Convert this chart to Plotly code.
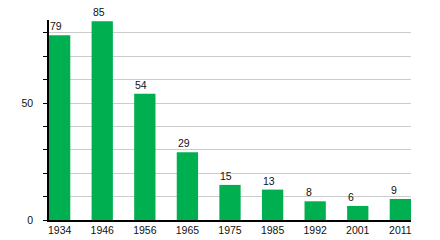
import plotly.graph_objects as go

years = ["1934", "1946", "1956", "1965", "1975", "1985", "1992", "2001", "2011"]
values = [79, 85, 54, 29, 15, 13, 8, 6, 9]
ytick_vals = [0, 10, 20, 30, 40, 50, 60, 70, 80]
ytick_text = ["0", "", "", "", "", "50", "", "", ""]

xs = list(range(len(years)))
font = dict(family="Liberation Sans, Arial, sans-serif", size=10.5, color="#111")

fig = go.Figure(go.Bar(x=xs, y=values, width=0.5, marker=dict(color="#00B050", line_width=0),
                       cliponaxis=False))

for x, v in zip(xs, values):
    fig.add_annotation(x=x - 0.25, y=v, text=str(v), showarrow=False,
                       xanchor="left", yanchor="bottom", yshift=1, xshift=-1, font=font)

fig.update_layout(
    width=440, height=240,
    margin=dict(l=49, r=29, t=20, b=20, autoexpand=False),
    paper_bgcolor="white", plot_bgcolor="white",
    showlegend=False, font=font,
)
fig.update_xaxes(range=[-0.25, 8.25], tickvals=xs, ticktext=years, showline=True,
                 linecolor="black", linewidth=1.5, ticks="", showgrid=False, zeroline=False,
                 tickfont=font, automargin=False)
fig.update_yaxes(range=[0, 85.5], tickvals=ytick_vals, ticktext=ytick_text, showline=True,
                 linecolor="black", linewidth=1.5, ticks="outside", ticklen=4, tickcolor="black",
                 showgrid=True, gridcolor="#cccccc", gridwidth=1, zeroline=False,
                 ticklabelstandoff=8, tickfont=font, automargin=False)

fig.write_html("out.html")
